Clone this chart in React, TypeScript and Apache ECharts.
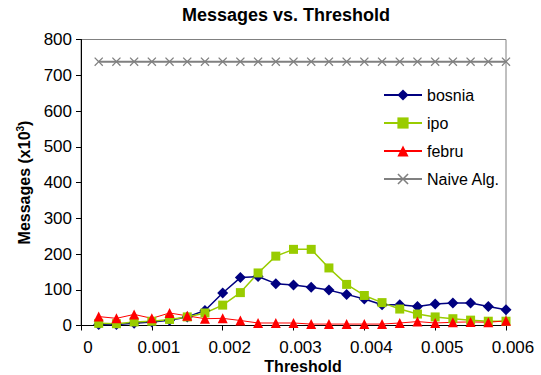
import React, { useEffect, useRef } from "react";
import * as echarts from "echarts";

const thresholds = [
  0.00025, 0.0005, 0.00075, 0.001, 0.00125, 0.0015, 0.00175, 0.002,
  0.00225, 0.0025, 0.00275, 0.003, 0.00325, 0.0035, 0.00375, 0.004,
  0.00425, 0.0045, 0.00475, 0.005, 0.00525, 0.0055, 0.00575, 0.006,
];
const bosnia = [3, 3, 6, 10, 15, 24, 42, 91, 134, 137, 117, 113, 107, 99, 87, 74, 58, 58, 53, 60, 63, 63, 53, 44];
const ipo = [6, 5, 10, 12, 17, 24, 35, 57, 92, 147, 194, 213, 213, 161, 115, 84, 64, 46, 32, 24, 19, 15, 12, 12];
const febru = [25, 20, 31, 20, 35, 27, 19, 20, 14, 7, 7, 7, 4, 4, 4, 4, 4, 7, 11, 7, 9, 10, 9, 13];
const naive = [738, 738, 738, 738, 738, 738, 738, 738, 738, 738, 738, 738, 738, 738, 738, 738, 738, 738, 738, 738, 738, 738, 738, 738];
const yTicks = { min: 0, max: 800, interval: 100 };
const xTicks = { min: 0, max: 0.006, interval: 0.001 };
const xTitle = "Threshold";

const FONT = "'Liberation Sans', Arial, sans-serif";
const CROSS = "path://M0,1 L1,0 L5,4 L9,0 L10,1 L6,5 L10,9 L9,10 L5,6 L1,10 L0,9 L4,5 Z";

const pairs = (ys: number[]) => ys.map((y, i) => [thresholds[i], y]);

export default function App() {
  const ref = useRef<HTMLDivElement>(null);
  useEffect(() => {
    if (!ref.current) return;
    const chart = echarts.init(ref.current, null, { renderer: "svg" });
    chart.setOption({
      animation: false,
      backgroundColor: "#ffffff",
      title: {
        text: "Messages vs. Threshold",
        left: 281,
        top: 1,
        textAlign: "center",
        textStyle: { fontFamily: FONT, fontSize: 18, fontWeight: "bold", color: "#000" },
      },
      grid: {
        left: 81,
        right: 35,
        top: 39.5,
        bottom: 49.5,
        outerBoundsMode: "none",
        containLabel: false,
        show: true,
        borderColor: "#808080",
        borderWidth: 1,
        backgroundColor: "transparent",
      },
      graphic: [
        {
          type: "text",
          x: 303,
          y: 366.5,
          style: {
            text: xTitle,
            fontFamily: FONT,
            fontSize: 16,
            lineHeight: 14,
            fontWeight: "bold",
            fill: "#000",
            align: "center",
            verticalAlign: "middle",
          },
        },
      ],
      legend: {
        orient: "vertical",
        left: 378,
        top: 82,
        itemWidth: 38,
        itemHeight: 14,
        itemGap: 12,
        textStyle: { fontFamily: FONT, fontSize: 16, color: "#000", lineHeight: 16 },
        data: ["bosnia", "ipo", "febru", "Naive Alg."],
      },
      xAxis: {
        type: "value",
        min: xTicks.min,
        max: xTicks.max,
        interval: xTicks.interval,
        axisLine: { show: true, lineStyle: { color: "#000", width: 1 } },
        axisTick: { show: true, inside: false, length: 5, lineStyle: { color: "#000" } },
        splitLine: { show: false },
        axisLabel: {
          fontFamily: FONT,
          fontSize: 17,
          lineHeight: 14,
          color: "#000",
          margin: 15,
          padding: [0, 0, 0, 14],
          formatter: (v: number) => (v === 0 ? "0" : v.toFixed(3)),
        },
      },
      yAxis: {
        type: "value",
        min: yTicks.min,
        max: yTicks.max,
        interval: yTicks.interval,
        name: "Messages (x10{sup|3})",
        nameLocation: "middle",
        nameGap: 48,
        nameTextStyle: {
          fontFamily: FONT,
          fontSize: 16,
          fontWeight: "bold",
          color: "#000",
          rich: {
            sup: { fontFamily: FONT, fontSize: 10, fontWeight: "bold", color: "#000", verticalAlign: "top", padding: [0, 0, 8, 0] },
          },
        },
        axisLine: { show: true, lineStyle: { color: "#000", width: 1 } },
        axisTick: { show: true, inside: false, length: 5, lineStyle: { color: "#000" } },
        splitLine: { show: false },
        axisLabel: { fontFamily: FONT, fontSize: 17, color: "#000", margin: 9 },
      },
      series: [
        {
          name: "bosnia",
          type: "line",
          data: pairs(bosnia),
          symbol: "diamond",
          symbolSize: 11,
          lineStyle: { color: "#000080", width: 1.5 },
          itemStyle: { color: "#000080" },
        },
        {
          name: "ipo",
          type: "line",
          data: pairs(ipo),
          symbol: "rect",
          symbolSize: 9,
          lineStyle: { color: "#99CC00", width: 1.5 },
          itemStyle: { color: "#99CC00" },
        },
        {
          name: "febru",
          type: "line",
          data: pairs(febru),
          symbol: "triangle",
          symbolSize: 10,
          lineStyle: { color: "#FF0000", width: 1 },
          itemStyle: { color: "#FF0000" },
        },
        {
          name: "Naive Alg.",
          type: "line",
          data: pairs(naive),
          symbol: CROSS,
          symbolSize: 9,
          lineStyle: { color: "#808080", width: 2 },
          itemStyle: { color: "#808080" },
        },
      ],
    });
    return () => chart.dispose();
  }, []);
  return (
    <div
      ref={ref}
      style={{ position: "absolute", left: 0, top: 0, width: 541, height: 375 }}
    />
  );
}
